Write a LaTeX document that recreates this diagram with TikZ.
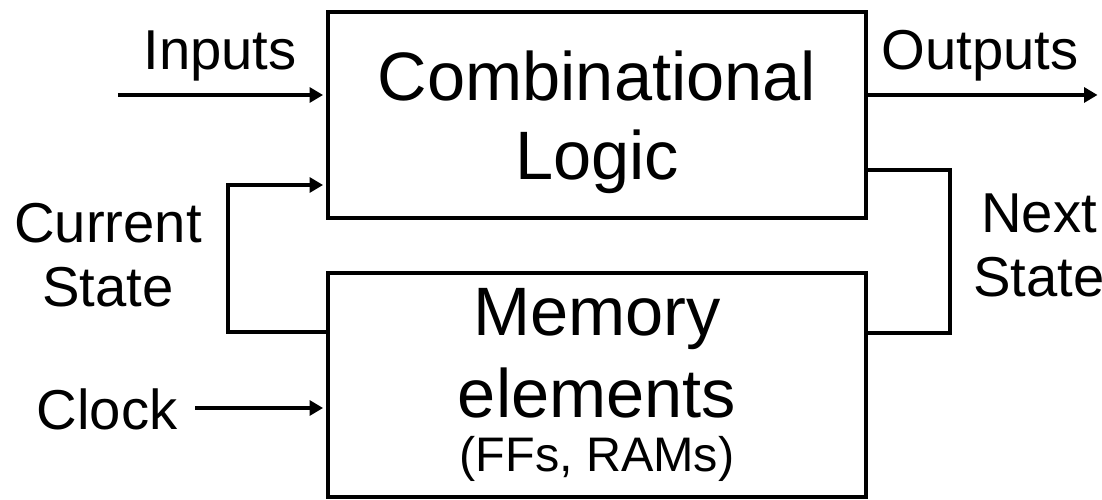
\documentclass[tikz,border=0pt]{standalone}
\usepackage{fontspec}
\setmainfont{Liberation Sans}
\usepackage{tikz}
\usetikzlibrary{arrows.meta, positioning}

\begin{document}
\begin{tikzpicture}[
  box/.style={rectangle, draw, line width=1.4pt, minimum width=5.38cm, inner sep=0pt,
              align=center, font=\fontsize{19.5}{22.5}\selectfont},
  arr/.style={-{Triangle[length=3.8pt, width=4.2pt]}, line width=1.4pt, shorten >=0.7pt},
  wire/.style={line width=1.4pt},
  lbl/.style={align=center, inner sep=0pt, font=\fontsize{16}{18.3}\selectfont},
]
\useasboundingbox (0,0) rectangle (11.02,5.00);

% the two blocks
\node[box, minimum height=2.06cm, text depth=0pt] (comb) at (5.97,3.85) {Combinational\\Logic};
\node[box, minimum height=2.24cm] (mem) at (5.97,1.15)
  {Memory\\[0.8pt]elements\\[-6.9pt]{\fontsize{13.8}{16.5}\selectfont(FFs, RAMs)}};

% inputs and outputs
\coordinate (inA) at (1.18,4.05);
\coordinate (outA) at (11.0,4.05);
\draw[arr] (inA) -- (inA -| comb.west);
\draw[arr] (outA -| comb.east) -- (outA);
\node[lbl, anchor=base] (inputs) at (2.20,4.30) {Inputs};
\node[lbl, anchor=base] (outputs) at (9.80,4.30) {Outputs};

% state feedback
\coordinate (csbot) at (2.28,1.68);
\coordinate (cstop) at (2.28,3.15);
\draw[arr] (csbot -| mem.west) -- (csbot) -- (cstop) -- (cstop -| comb.west);
\coordinate (nstop) at (9.50,3.30);
\coordinate (nsbot) at (9.50,1.67);
\draw[wire] (nstop -| comb.east) -- (nstop) -- (nsbot) -- (nsbot -| mem.east);
\node[lbl, anchor=base] (curst) at (1.08,1.93) {Current\\State};
\node[lbl, anchor=base] (nextst) at (10.39,2.03) {Next\\State};

% clock
\coordinate (clk) at (1.95,0.92);
\draw[arr] (clk) -- (clk -| mem.west);
\node[lbl, anchor=base] (clock) at (1.07,0.70) {Clock};
\end{tikzpicture}
\end{document}
